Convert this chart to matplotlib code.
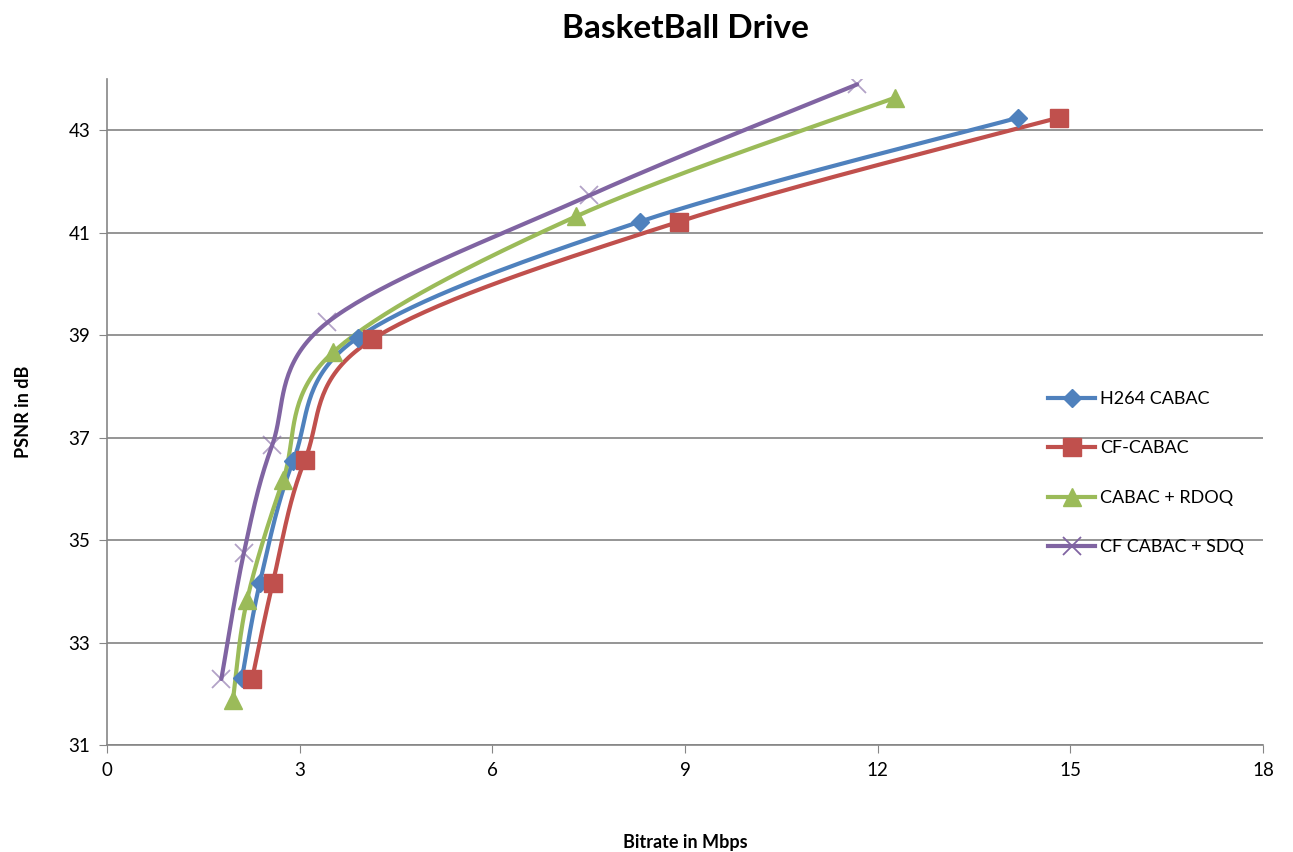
import numpy as np
import matplotlib.pyplot as plt
from matplotlib.lines import Line2D

# data
series_names = ["H264 CABAC", "CF-CABAC", "CABAC + RDOQ", "CF CABAC + SDQ"]
h264_rate = [2.10, 2.38, 2.90, 3.90, 8.30, 14.19]
h264_psnr = [32.30, 34.17, 36.55, 38.95, 41.22, 43.25]
cf_rate = [2.26, 2.58, 3.08, 4.13, 8.91, 14.82]
cf_psnr = [32.29, 34.16, 36.56, 38.92, 41.22, 43.25]
rdoq_rate = [1.96, 2.18, 2.74, 3.52, 7.30, 12.27]
rdoq_psnr = [31.88, 33.83, 36.17, 38.67, 41.32, 43.64]
sdq_rate = [1.78, 2.13, 2.57, 3.43, 7.51, 11.68]
sdq_psnr = [32.29, 34.75, 36.85, 39.25, 41.73, 43.90]

x_ticks = [0, 3, 6, 9, 12, 15, 18]
y_ticks = [31, 33, 35, 37, 39, 41, 43]

colors = ["#4F81BD", "#C0504D", "#9BBB59", "#8064A2"]
markers = ["D", "s", "^", "x"]
msizes = [9, 13, 13, 13]

XMIN, XMAX, YMIN, YMAX = 0, 18, 31, 44


def smooth(xs, ys, ax_w, ax_h, n=40):
    # excel-like smoothing (catmull-rom bezier) in screen space
    px = (np.array(xs) - XMIN) / (XMAX - XMIN) * ax_w
    py = (np.array(ys) - YMIN) / (YMAX - YMIN) * ax_h
    P = np.column_stack([px, py])
    out = []
    t = np.linspace(0, 1, n)
    for i in range(len(P) - 1):
        p0 = P[i - 1] if i > 0 else P[i]
        p3 = P[i + 2] if i + 2 < len(P) else P[i + 1]
        p1, p2 = P[i], P[i + 1]
        c1 = p1 + (p2 - p0) / 6
        c2 = p2 - (p3 - p1) / 6
        seg = ((1 - t) ** 3)[:, None] * p1 + (3 * (1 - t) ** 2 * t)[:, None] * c1 \
            + (3 * (1 - t) * t ** 2)[:, None] * c2 + (t ** 3)[:, None] * p2
        out.append(seg)
    S = np.vstack(out)
    return S[:, 0] / ax_w * (XMAX - XMIN) + XMIN, S[:, 1] / ax_h * (YMAX - YMIN) + YMIN


plt.rcParams['font.family'] = ['Lato', 'DejaVu Sans']

fig = plt.figure(figsize=(12.93, 8.52), dpi=100)
ax = fig.add_axes([0.0828, 0.1256, 0.894, 0.7814])
ax_w, ax_h = 0.894 * 1293, 0.7814 * 852

data = [(h264_rate, h264_psnr), (cf_rate, cf_psnr), (rdoq_rate, rdoq_psnr), (sdq_rate, sdq_psnr)]
handles = []
for (xs, ys), name, c, m, ms in zip(data, series_names, colors, markers, msizes):
    sx, sy = smooth(xs, ys, ax_w, ax_h)
    ax.plot(sx, sy, color=c, lw=3, solid_capstyle='round', zorder=3)
    if m == "x":
        ax.plot(xs, ys, ls='none', marker=m, ms=ms, color=c, mew=1.3, alpha=0.6, zorder=4)
    else:
        ax.plot(xs, ys, ls='none', marker=m, ms=ms, color=c, zorder=4)
    handles.append(Line2D([0], [0], color=c, lw=3, marker=m, ms=ms if m != "x" else 13,
                          mew=1.3 if m == "x" else 1, alpha=1))

ax.set_xlim(XMIN, XMAX)
ax.set_ylim(YMIN, YMAX)
ax.set_xticks(x_ticks)
ax.set_yticks(y_ticks)
ax.tick_params(labelsize=13.5, length=6, color='#868686', direction='out', pad=6)
for s in ['top', 'right']:
    ax.spines[s].set_visible(False)
for s in ['left', 'bottom']:
    ax.spines[s].set_color('#868686')
    ax.spines[s].set_linewidth(1.2)
ax.yaxis.grid(True, color='#8c8c8c', lw=1.3)
ax.set_axisbelow(True)

ax.set_title("BasketBall Drive", fontsize=24, fontweight='bold', pad=30)
ax.set_xlabel("Bitrate in Mbps", fontsize=13, fontweight='bold', labelpad=40)
ax.set_ylabel("PSNR in dB", fontsize=13, fontweight='bold', labelpad=26)

leg = ax.legend(handles, series_names, loc='upper left', bbox_to_anchor=(0.8, 0.556),
                frameon=False, fontsize=13, labelspacing=1.85, handlelength=2.6,
                handletextpad=0.3)

fig.savefig("out.png", dpi=100)
